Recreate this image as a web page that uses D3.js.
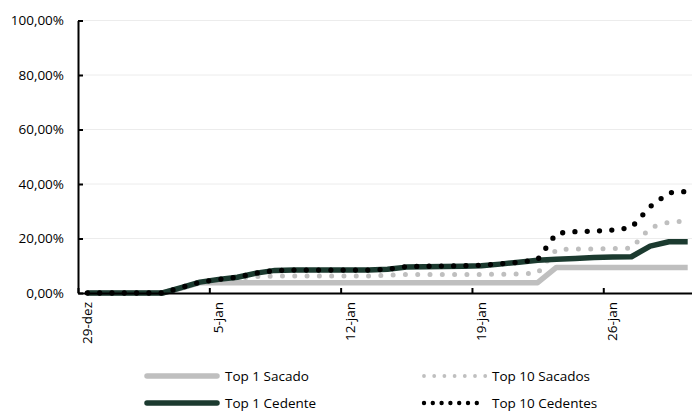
<!DOCTYPE html>
<html>
<head>
<meta charset="utf-8">
<script src="https://cdn.jsdelivr.net/npm/d3@7"></script>
<style>
    body { margin: 0; background: #fff; }
    svg text { font-family: "Open Sans", sans-serif; font-size: 13.5px; fill: #000; }
    .grid line { stroke: #ececec; stroke-width: 1; }
    .axis path, .axis line { stroke: #000; stroke-width: 2; }
</style>
</head>
<body>
<div class="chart"></div>
<script>
// categories: one value per day
const firstDay = "2019-12-29"
const lastDay = "2020-01-30"
const tickDays = ["2019-12-29", "2020-01-05", "2020-01-12", "2020-01-19", "2020-01-26"]
const tickLabels = ["29-dez", "5-jan", "12-jan", "19-jan", "26-jan"]
const yTicks = [0, 20, 40, 60, 80, 100]

// series values in %
const top1Sacado = [0, 0, 0, 0, 0, 1.8, 3.8, 3.8, 3.8, 3.8, 3.8, 3.8, 3.8, 3.8, 3.8, 3.8, 3.8,
    3.8, 3.8, 3.8, 3.8, 3.8, 3.8, 3.8, 3.8, 9.4, 9.4, 9.4, 9.4, 9.4, 9.4, 9.4, 9.4]
const top10Sacados = [0, 0, 0, 0, 0, 1.9, 3.8, 4.6, 5.4, 6.0, 6.2, 6.2, 6.2, 6.2, 6.2, 6.2, 6.5,
    6.8, 6.8, 6.8, 6.8, 6.8, 6.9, 7.0, 7.3, 16.0, 16.1, 16.2, 16.3, 16.4, 24.0, 26.0, 26.4]
const top1Cedente = [0, 0, 0, 0, 0, 2.0, 4.0, 5.0, 5.8, 7.3, 8.3, 8.4, 8.4, 8.4, 8.4, 8.4, 8.7,
    9.5, 9.6, 9.7, 9.8, 10.0, 10.6, 11.3, 12.0, 12.4, 12.7, 13.0, 13.2, 13.3, 17.2, 18.8, 18.8]
const top10Cedentes = [0, 0, 0, 0, 0, 2.0, 4.0, 5.0, 5.8, 7.3, 8.3, 8.4, 8.4, 8.4, 8.4, 8.4, 8.7,
    9.7, 9.8, 9.9, 10.0, 10.2, 10.7, 11.3, 12.2, 21.9, 22.5, 22.7, 23.1, 24.0, 31.7, 36.8, 37.3]

const seriesNames = ["Top 1 Sacado", "Top 10 Sacados", "Top 1 Cedente", "Top 10 Cedentes"]
const seriesValues = [top1Sacado, top10Sacados, top1Cedente, top10Cedentes]

const $chart = d3.select('.chart')

var width = 692
var height = 412

var styles = [
    { color: "#bfbfbf", width: 5.5, dash: null, legendDash: null },
    { color: "#bfbfbf", width: 5, dash: "0,12.3", legendDash: "0,10.2", legendWidth: 3.8 },
    { color: "#1b3a2f", width: 5.5, dash: null, legendDash: null },
    { color: "#000000", width: 5.3, dash: "0,12.3", legendDash: "0,8.8", legendWidth: 4.4 }
]

function setupChart() {
    const parse = d3.utcParse("%Y-%m-%d")
    const days = d3.utcDay.range(parse(firstDay), d3.utcDay.offset(parse(lastDay), 1))

    let svg = $chart.append("svg")
        .attr("width", width)
        .attr("height", height)

    svg.append("rect")
        .attr("width", width)
        .attr("height", height)
        .attr("fill", "#fff")

    var xScale = d3.scaleUtc()
        .domain([parse(firstDay), d3.utcDay.offset(parse(lastDay), 1)])
        .range([78, 78 + days.length * 18.76])

    var yScale = d3.scaleLinear()
        .domain([0, 100])
        .range([293, 20.5])

    const mid = d => d3.utcHour.offset(d, 12)
    const fmt = d3.formatLocale({ decimal: ",", thousands: ".", grouping: [3], currency: ["R$", ""] }).format(".2f")

    // gridlines
    svg.append("g")
        .attr("class", "grid")
        .selectAll("line")
        .data(yTicks.filter(t => t > 0))
        .join("line")
        .attr("x1", xScale.range()[0])
        .attr("x2", xScale.range()[1])
        .attr("y1", d => yScale(d))
        .attr("y2", d => yScale(d))

    // lines
    var line = d3.line()
        .x((d, i) => xScale(mid(days[i])))
        .y(d => yScale(d))

    seriesValues.forEach(function (values, i) {
        let s = styles[i]
        svg.append("path")
            .datum(values)
            .attr("d", line)
            .attr("fill", "none")
            .attr("stroke", s.color)
            .attr("stroke-width", s.width)
            .attr("stroke-linejoin", "round")
            .attr("stroke-linecap", s.dash ? "round" : "butt")
            .attr("stroke-dasharray", s.dash)
    })

    // y axis
    var yAxis = d3.axisLeft(yScale)
        .tickValues(yTicks)
        .tickSizeInner(-5)
        .tickSizeOuter(0)
        .tickPadding(14)
        .tickFormat(d => fmt(d) + "%")

    var yG = svg.append("g")
        .attr("class", "axis")
        .attr("transform", "translate(78,0)")
        .call(yAxis)
    yG.selectAll("text").attr("font-size", null).attr("font-family", null)

    // x axis
    var xAxis = d3.axisBottom(xScale)
        .tickValues(tickDays.map(parse))
        .tickSizeInner(-5)
        .tickSizeOuter(0)
        .tickFormat("")

    svg.append("g")
        .attr("class", "axis")
        .attr("transform", "translate(0,293)")
        .call(xAxis)

    svg.append("g")
        .selectAll("text")
        .data(tickDays)
        .join("text")
        .attr("transform", d => "translate(" + xScale(mid(parse(d))) + ",302) rotate(-90)")
        .attr("text-anchor", "end")
        .attr("dy", "0.35em")
        .text((d, i) => tickLabels[i])

    // legend
    let legendPos = [[147, 376], [424, 376], [147, 403], [424, 403]]
    seriesNames.forEach(function (name, i) {
        let s = styles[i]
        let p = legendPos[i]
        let g = svg.append("g").attr("transform", "translate(" + p[0] + "," + p[1] + ")")
        g.append("line")
            .attr("x1", 0)
            .attr("x2", s.dash ? 61.5 : 70)
            .attr("stroke", s.color)
            .attr("stroke-width", s.dash ? s.legendWidth : 5.5)
            .attr("stroke-linecap", "round")
            .attr("stroke-dasharray", s.legendDash)
        g.append("text")
            .attr("x", s.dash ? 68 : 78)
            .attr("dy", "0.35em")
            .text(name)
    })
}

setupChart()
</script>
</body>
</html>
